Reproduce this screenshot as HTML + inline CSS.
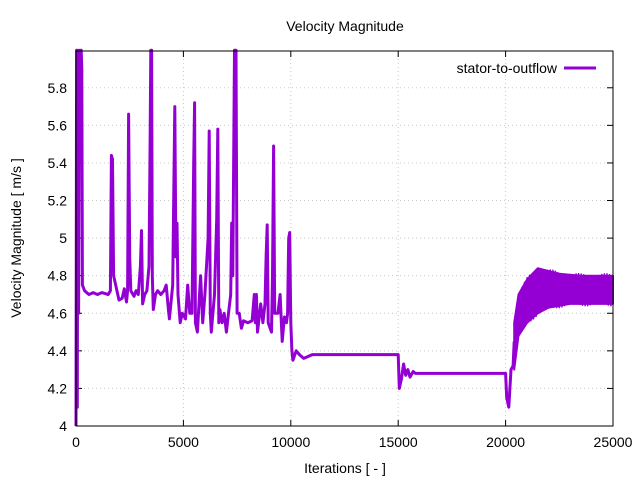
<!DOCTYPE html>
<html><head><style>body{margin:0;background:#fff}svg{display:block;font-family:"Liberation Sans",sans-serif}</style></head>
<body>
<svg id="s" width="640" height="480" xmlns="http://www.w3.org/2000/svg">
<rect width="640" height="480" fill="#fff"/>
<g id="grid" stroke="#c8c8c8" stroke-width="1" stroke-dasharray="1,3"></g>
<g id="ticks" stroke="#000" stroke-width="1"></g>
<g id="labels" font-size="14" fill="#000"></g>
<g fill="none" stroke="#9400d3" stroke-width="3" stroke-linejoin="round">
<path id="p"/>
<polygon id="band" fill="#9400d3" stroke="#9400d3" stroke-width="2"/>
<path id="z" stroke-width="1.5"/>
</g>
<rect x="76" y="51" width="537" height="375" fill="none" stroke="#000" stroke-width="1"/>
<text x="345" y="31" font-size="14" text-anchor="middle">Velocity Magnitude</text>
<text x="345" y="473" font-size="14" text-anchor="middle">Iterations [ - ]</text>
<text transform="translate(21,238) rotate(-90)" font-size="14" text-anchor="middle">Velocity Magnitude [ m/s ]</text>
<text x="557" y="73" font-size="14" text-anchor="end">stator-to-outflow</text>
<line x1="564" y1="68" x2="596" y2="68" stroke="#9400d3" stroke-width="3"/>
</svg>
<script>
var X=function(i){return 76+i*0.02148},Y=function(v){return 426-(v-4)*187.9};
var ns="http://www.w3.org/2000/svg";
function el(g,t,a,txt){var e=document.createElementNS(ns,t);for(var k in a)e.setAttribute(k,a[k]);if(txt)e.textContent=txt;document.getElementById(g).appendChild(e);}
for(var k=0;k<=9;k++){var v=4+k*0.2,y=Y(v);
 if(k>0)el("grid","line",{x1:76,y1:y,x2:613,y2:y});
 el("ticks","line",{x1:76,y1:y,x2:82,y2:y});el("ticks","line",{x1:613,y1:y,x2:607,y2:y});
 el("labels","text",{x:67,y:y+5,"text-anchor":"end"},(k==0||k==5)?String(Math.round(v)):v.toFixed(1));}
for(var k=0;k<=5;k++){var x=X(k*5000);
 if(k>0&&k<5)el("grid","line",{x1:x,y1:51,x2:x,y2:426});
 el("ticks","line",{x1:x,y1:426,x2:x,y2:420});el("ticks","line",{x1:x,y1:51,x2:x,y2:57});
 el("labels","text",{x:x,y:447,"text-anchor":"middle"},String(k*5000));}
var P=[[0,4.0],[30,6],[60,4.1],[90,6],[120,4.6],[150,5.7],[180,6],[210,5.8],[240,6],[270,5.9],[300,4.75],[400,4.72],[600,4.7],[800,4.71],[1000,4.7],[1200,4.71],[1500,4.7],[1600,4.72],[1650,5.44],[1700,5.42],[1750,4.8],[1850,4.75],[2000,4.67],[2150,4.68],[2250,4.73],[2350,4.66],[2400,4.72],[2450,5.66],[2500,4.9],[2550,4.72],[2700,4.69],[2800,4.72],[2900,4.7],[3000,4.85],[3050,5.04],[3100,4.65],[3200,4.7],[3300,4.72],[3400,4.85],[3450,5.5],[3480,6],[3520,6],[3550,4.8],[3600,4.62],[3700,4.7],[3800,4.72],[3950,4.7],[4100,4.72],[4200,4.75],[4300,4.62],[4350,4.57],[4500,4.75],[4600,5.7],[4650,4.9],[4700,5.08],[4750,4.7],[4850,4.55],[4950,4.6],[5100,4.57],[5200,4.75],[5300,4.6],[5400,4.6],[5480,5.4],[5520,5.72],[5560,4.55],[5650,4.5],[5800,4.8],[5900,4.55],[6000,4.7],[6150,5.0],[6200,5.57],[6250,4.6],[6300,4.5],[6450,4.7],[6550,5.1],[6600,5.58],[6650,4.55],[6700,4.62],[6800,4.55],[6900,4.6],[7000,4.5],[7100,4.6],[7200,4.7],[7250,5.08],[7300,4.8],[7380,6],[7450,6],[7500,4.6],[7600,4.6],[7700,4.52],[7800,4.56],[8000,4.55],[8200,4.56],[8300,4.7],[8350,4.55],[8400,4.7],[8450,4.5],[8600,4.65],[8700,4.55],[8800,4.65],[8850,4.9],[8900,5.07],[8950,4.55],[9100,4.5],[9150,4.8],[9200,5.49],[9250,4.6],[9400,4.6],[9500,4.7],[9600,4.45],[9700,4.58],[9800,4.55],[9850,4.6],[9900,5.0],[9950,5.03],[10000,4.55],[10050,4.4],[10100,4.35],[10250,4.4],[10400,4.38],[10600,4.36],[10800,4.37],[11000,4.38],[15000,4.38],[15050,4.2],[15150,4.25],[15250,4.33],[15350,4.27],[15450,4.3],[15550,4.26],[15700,4.29],[15800,4.28],[20000,4.28],[20050,4.15],[20150,4.1],[20250,4.3],[20350,4.32],[20400,4.45]];
var d="";P.forEach(function(p,i){d+=(i?"L":"M")+X(p[0]).toFixed(1)+" "+Y(p[1]).toFixed(1);});
document.getElementById("p").setAttribute("d",d);
var U=[[20400,4.55],[20600,4.7],[21000,4.78],[21500,4.84],[22500,4.81],[23500,4.8],[25000,4.8]];
var L=[[20400,4.3],[20600,4.48],[21000,4.55],[21500,4.6],[22000,4.63],[23000,4.65],[25000,4.65]];
function interp(A,i){for(var k=1;k<A.length;k++)if(i<=A[k][0]){var t=(i-A[k-1][0])/(A[k][0]-A[k-1][0]);return A[k-1][1]+t*(A[k][1]-A[k-1][1]);}return A[A.length-1][1];}
var pts=[];U.forEach(function(p){pts.push(X(p[0]).toFixed(1)+","+Y(p[1]).toFixed(1));});
L.slice().reverse().forEach(function(p){pts.push(X(p[0]).toFixed(1)+","+Y(p[1]).toFixed(1));});
document.getElementById("band").setAttribute("points",pts.join(" "));
var z="",s=1;for(var i=20400;i<=25000;i+=60){var v=s>0?interp(U,i)+0.01*Math.sin(i):interp(L,i)-0.01*Math.cos(i);s=-s;z+=(z?"L":"M")+X(i).toFixed(1)+" "+Y(v).toFixed(1);}
document.getElementById("z").setAttribute("d",z);
</script>
</body></html>
